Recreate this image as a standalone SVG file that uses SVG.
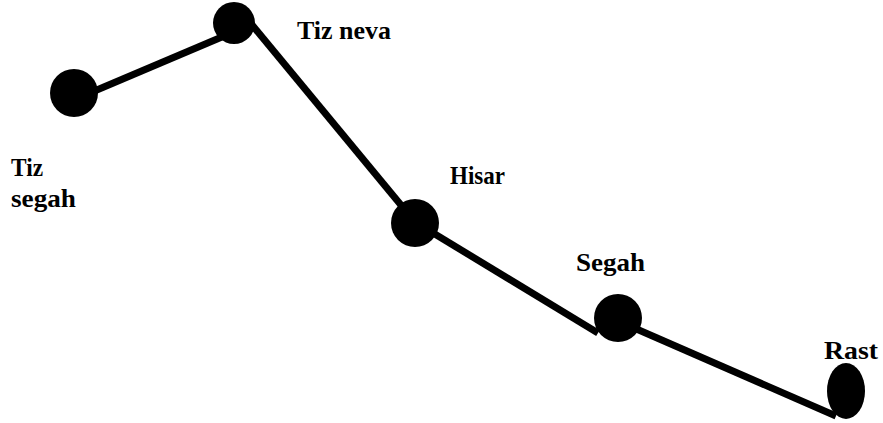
<svg xmlns="http://www.w3.org/2000/svg" width="883" height="423" viewBox="0 0 883 423">
<style>
.lbl{font-family:"Liberation Serif","Times New Roman",serif;font-weight:bold;font-size:25px;fill:#000}
.edge{stroke:#000;stroke-width:7;fill:none;stroke-linecap:butt}
.dot{fill:#000}
</style>
<rect width="883" height="423" fill="#fff"/>
<g id="connectors">
<line class="edge" x1="85" y1="95" x2="236" y2="31"/>
<line class="edge" x1="248" y1="20" x2="415" y2="222"/>
<line class="edge" x1="415" y1="222" x2="598" y2="333"/>
<line class="edge" x1="625" y1="324" x2="836" y2="416"/>
</g>
<g id="tiz-segah">
<circle class="dot" cx="74" cy="93" r="24"/>
<text class="lbl" x="11" y="176" textLength="32" lengthAdjust="spacingAndGlyphs">Tiz</text>
<text class="lbl" x="11" y="207" textLength="65" lengthAdjust="spacingAndGlyphs">segah</text>
</g>
<g id="tiz-neva">
<circle class="dot" cx="234" cy="23" r="21"/>
<text class="lbl" x="297" y="39" textLength="94" lengthAdjust="spacingAndGlyphs">Tiz neva</text>
</g>
<g id="hisar">
<circle class="dot" cx="415" cy="223" r="24"/>
<text class="lbl" x="450" y="184" textLength="55" lengthAdjust="spacingAndGlyphs">Hisar</text>
</g>
<g id="segah">
<circle class="dot" cx="618" cy="318" r="24"/>
<text class="lbl" x="576" y="271" textLength="69" lengthAdjust="spacingAndGlyphs">Segah</text>
</g>
<g id="rast">
<ellipse class="dot" cx="846" cy="391" rx="19" ry="28"/>
<text class="lbl" x="824" y="359" textLength="54" lengthAdjust="spacingAndGlyphs">Rast</text>
</g>
</svg>
